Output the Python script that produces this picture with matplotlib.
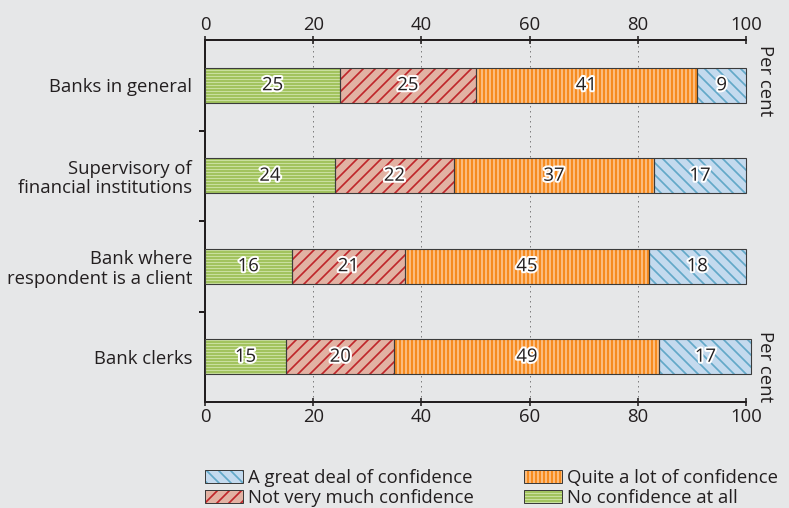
import matplotlib
matplotlib.use("Agg")
import matplotlib.pyplot as plt
import matplotlib.patheffects as pe
from matplotlib.patches import Patch
import numpy as np

categories = ["Banks in general", "Supervisory of\nfinancial institutions",
              "Bank where\nrespondent is a client", "Bank clerks"]
no_confidence = [25, 24, 16, 15]
not_very_much = [25, 22, 21, 20]
quite_a_lot = [41, 37, 45, 49]
great_deal = [9, 17, 18, 17]
series_labels = ["No confidence at all", "Not very much confidence",
                 "Quite a lot of confidence", "A great deal of confidence"]
x_ticks = [0, 20, 40, 60, 80, 100]

DPI = 72
BG = "#e6e7e8"
INK = "#231f20"
FS = 18.5
plt.rcParams["font.family"] = ["Open Sans", "DejaVu Sans"]
plt.rcParams["hatch.linewidth"] = 1.7

styles = [
    dict(face="#8db53c", hatchc="#c9df9e", hatch="----"),
    dict(face="#e2b2a3", hatchc="#bf262b", hatch="//"),
    dict(face="#f68b1f", hatchc="#fcc58f", hatch="|||"),
    dict(face="#c4daee", hatchc="#62a8c8", hatch="\\\\"),
]
series = [no_confidence, not_very_much, quite_a_lot, great_deal]

fig = plt.figure(figsize=(789 / DPI, 508 / DPI), dpi=DPI, facecolor=BG)
ax = fig.add_axes([205 / 789, 1 - 402 / 508, (746 - 205) / 789, (402 - 40) / 508])
ax.set_facecolor(BG)

y = np.arange(len(categories))
left = np.zeros(len(categories))
bar_h = 0.39
for vals, st in zip(series, styles):
    vals = np.array(vals, dtype=float)
    ax.barh(y, vals, left=left, height=bar_h, color=st["face"],
            edgecolor=st["hatchc"], hatch=st["hatch"], linewidth=0,
            zorder=3, clip_on=False)
    ax.barh(y, vals, left=left, height=bar_h, fill=False,
            edgecolor="#3b3b3b", linewidth=1.1, zorder=4, clip_on=False)
    for yi, v, l in zip(y, vals, left):
        ax.text(l + v / 2, yi, f"{v:.0f}", ha="center", va="center",
                fontsize=FS, color=INK, zorder=5,
                path_effects=[pe.withStroke(linewidth=4, foreground="white")])
    left = left + vals

ax.set_xlim(0, 100)
ax.set_ylim(3.5, -0.5)
ax.set_xticks(x_ticks)
ax.set_yticks(y)
ax.set_yticklabels(categories, fontsize=FS, color=INK, linespacing=1.1)
ax.set_yticks([0.5, 1.5, 2.5], minor=True)
ax.tick_params(axis="y", which="major", length=0, pad=13)
ax.tick_params(axis="y", which="minor", length=6, width=2, color=INK, direction="out")
ax.tick_params(axis="x", which="major", top=True, labeltop=True, bottom=True,
               labelbottom=True, direction="inout", length=8, width=1.6,
               color=INK, labelsize=FS, labelcolor=INK, pad=2)

for side in ["top", "bottom", "left"]:
    ax.spines[side].set_linewidth(2)
    ax.spines[side].set_color(INK)
ax.spines["right"].set_visible(False)

for xv in x_ticks[1:]:
    ax.axvline(xv, color="#7f7f7f", linewidth=1, linestyle=(0, (1.5, 3.5)), zorder=1)

ax.text(1.018, 0.985, "Per cent", transform=ax.transAxes, rotation=-90,
        ha="left", va="top", fontsize=FS, color=INK)
ax.text(1.018, 0.0, "Per cent", transform=ax.transAxes, rotation=-90,
        ha="left", va="bottom", fontsize=FS, color=INK)

def handle(st):
    return (Patch(facecolor=st["face"], edgecolor=st["hatchc"], hatch=st["hatch"], linewidth=0),
            Patch(fill=False, edgecolor="#3b3b3b", linewidth=1))

order = [3, 1, 2, 0]
handles = [handle(styles[i]) for i in order]
labels = [series_labels[i] for i in order]
fig.legend(handles, labels, ncol=2, loc="upper left",
           bbox_to_anchor=(205 / 789, 1 - 469 / 508), frameon=False,
           fontsize=FS, handlelength=2.05, handleheight=0.7,
           handletextpad=0.25, columnspacing=2.75, labelspacing=0.1,
           borderaxespad=0, borderpad=0.0, labelcolor=INK)

fig.savefig("out.png", dpi=DPI, facecolor=BG)
